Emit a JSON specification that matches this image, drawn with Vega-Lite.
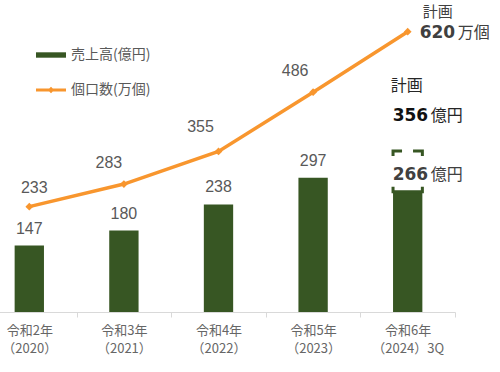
{
  "$schema": "https://vega.github.io/schema/vega-lite/v6.json",
  "width": 473,
  "height": 312,
  "autosize": {"type": "none"},
  "padding": {"left": -18, "top": 0, "right": 45, "bottom": 60},
  "background": "white",
  "config": {
    "view": {"stroke": null},
    "text": {"font": "Liberation Sans"}
  },
  "data": {
    "values": [
      {"year": "令和2年|（2020）", "sales": 147, "parcels": 233, "plan_sales": null},
      {"year": "令和3年|（2021）", "sales": 180, "parcels": 283, "plan_sales": null},
      {"year": "令和4年|（2022）", "sales": 238, "parcels": 355, "plan_sales": null},
      {"year": "令和5年|（2023）", "sales": 297, "parcels": 486, "plan_sales": null},
      {"year": "令和6年|（2024）3Q", "sales": 266, "parcels": 620, "plan_sales": 356}
    ]
  },
  "encoding": {
    "x": {
      "field": "year",
      "type": "nominal",
      "sort": null,
      "scale": {"paddingInner": 0, "paddingOuter": 0},
      "axis": {
        "title": null,
        "labelExpr": "split(datum.label, '|')",
        "labelAngle": 0,
        "labelFont": "Noto Sans CJK JP",
        "labelFontSize": 13,
        "labelColor": "#666666",
        "labelLineHeight": 18,
        "labelPadding": 7,
        "labelBaseline": "top",
        "labelOverlap": false,
        "labelBound": false,
        "domainColor": "#d9d9d9",
        "tickColor": "#d9d9d9",
        "tickSize": 5,
        "tickBand": "extent",
        "grid": false
      }
    }
  },
  "layer": [
    {
      "mark": {"type": "bar", "width": {"band": 0.31}},
      "encoding": {
        "y": {"field": "sales", "type": "quantitative", "scale": {"domain": [0, 690], "nice": false}, "axis": null},
        "color": {
          "datum": "売上高(億円)",
          "scale": {"domain": ["売上高(億円)", "個口数(万個)"], "range": ["#375623", "#f8962e"]},
          "legend": {
            "title": null,
            "orient": "none",
            "legendX": 54,
            "legendY": 40,
            "labelFont": "Noto Sans CJK JP",
            "labelFontSize": 14,
            "labelColor": "#595959",
            "labelOffset": 5,
            "rowPadding": 13,
            "symbolSize": 900,
            "encode": {
              "symbols": {
                "update": {
                  "shape": {"signal": "datum.value === '売上高(億円)' ? 'M-1,-0.18H1V0.18H-1Z' : 'M-1,-0.1H1V0.1H-1Z M-0.22,0L0,-0.22L0.22,0L0,0.22Z'"},
                  "fill": {"scale": "color", "field": "value"},
                  "strokeWidth": {"value": 0},
                  "opacity": {"value": 1},
                  "fillOpacity": {"value": 1}
                }
              }
            }
          }
        }
      }
    },
    {
      "transform": [{"filter": "datum.plan_sales != null"}],
      "mark": {"type": "bar", "width": {"band": 0.31}, "fillOpacity": 0, "stroke": "#375623", "strokeWidth": 3, "strokeDash": [9, 11, 14.3, 30.7, 39.3, 30.7, 5, 0]},
      "encoding": {
        "y": {"field": "plan_sales", "type": "quantitative", "scale": {"domain": [0, 690], "nice": false}, "axis": null},
        "y2": {"field": "sales"}
      }
    },
    {
      "mark": {"type": "line", "strokeWidth": 3.5, "point": {"shape": "diamond", "size": 60, "filled": true}},
      "encoding": {
        "y": {"field": "parcels", "type": "quantitative", "scale": {"domain": [0, 690], "nice": false}, "axis": null},
        "color": {"datum": "個口数(万個)"}
      }
    },
    {
      "transform": [{"filter": "datum.plan_sales == null"}],
      "mark": {"type": "text", "fontSize": 16, "color": "#595959", "baseline": "alphabetic", "dy": -12},
      "encoding": {
        "y": {"field": "sales", "type": "quantitative", "scale": {"domain": [0, 690], "nice": false}, "axis": null},
        "text": {"field": "sales"}
      }
    },
    {
      "transform": [{"filter": "datum.parcels == 233"}],
      "mark": {"type": "text", "fontSize": 16, "color": "#595959", "baseline": "alphabetic", "dx": 5, "dy": -14},
      "encoding": {
        "y": {"field": "parcels", "type": "quantitative", "scale": {"domain": [0, 690], "nice": false}, "axis": null},
        "text": {"field": "parcels"}
      }
    },
    {
      "transform": [{"filter": "datum.parcels == 283"}],
      "mark": {"type": "text", "fontSize": 16, "color": "#595959", "baseline": "alphabetic", "dx": -15, "dy": -16},
      "encoding": {
        "y": {"field": "parcels", "type": "quantitative", "scale": {"domain": [0, 690], "nice": false}, "axis": null},
        "text": {"field": "parcels"}
      }
    },
    {
      "transform": [{"filter": "datum.parcels == 355"}],
      "mark": {"type": "text", "fontSize": 16, "color": "#595959", "baseline": "alphabetic", "dx": -18, "dy": -19},
      "encoding": {
        "y": {"field": "parcels", "type": "quantitative", "scale": {"domain": [0, 690], "nice": false}, "axis": null},
        "text": {"field": "parcels"}
      }
    },
    {
      "transform": [{"filter": "datum.parcels == 486"}],
      "mark": {"type": "text", "fontSize": 16, "color": "#595959", "baseline": "alphabetic", "dx": -18, "dy": -16},
      "encoding": {
        "y": {"field": "parcels", "type": "quantitative", "scale": {"domain": [0, 690], "nice": false}, "axis": null},
        "text": {"field": "parcels"}
      }
    },
    {
      "transform": [{"filter": "datum.plan_sales != null"}],
      "layer": [
        {
          "mark": {"type": "text", "text": "計画", "font": "Noto Sans CJK JP", "fontSize": 15, "color": "#404040", "baseline": "top", "align": "center", "dx": 30, "dy": -27},
          "encoding": {"y": {"field": "parcels", "type": "quantitative", "scale": {"domain": [0, 690], "nice": false}, "axis": null}}
        },
        {
          "mark": {"type": "text", "font": "DejaVu Sans", "fontWeight": "bold", "fontSize": 17, "color": "#404040", "baseline": "alphabetic", "align": "left", "dx": 12, "dy": 6},
          "encoding": {
            "y": {"field": "parcels", "type": "quantitative", "scale": {"domain": [0, 690], "nice": false}, "axis": null},
            "text": {"field": "parcels"}
          }
        },
        {
          "mark": {"type": "text", "text": "万個", "font": "Noto Sans CJK JP", "fontSize": 16, "color": "#404040", "baseline": "alphabetic", "align": "left", "dx": 50, "dy": 6},
          "encoding": {"y": {"field": "parcels", "type": "quantitative", "scale": {"domain": [0, 690], "nice": false}, "axis": null}}
        },
        {
          "mark": {"type": "text", "text": "計画", "font": "Noto Sans CJK JP", "fontSize": 16, "color": "#262626", "baseline": "middle", "align": "left", "dx": -17, "dy": -65},
          "encoding": {"y": {"field": "plan_sales", "type": "quantitative", "scale": {"domain": [0, 690], "nice": false}, "axis": null}}
        },
        {
          "mark": {"type": "text", "font": "DejaVu Sans", "fontWeight": "bold", "fontSize": 17, "color": "#111111", "baseline": "alphabetic", "align": "left", "dx": -15, "dy": -30},
          "encoding": {
            "y": {"field": "plan_sales", "type": "quantitative", "scale": {"domain": [0, 690], "nice": false}, "axis": null},
            "text": {"field": "plan_sales"}
          }
        },
        {
          "mark": {"type": "text", "text": "億円", "font": "Noto Sans CJK JP", "fontSize": 16, "color": "#262626", "baseline": "alphabetic", "align": "left", "dx": 23, "dy": -30},
          "encoding": {"y": {"field": "plan_sales", "type": "quantitative", "scale": {"domain": [0, 690], "nice": false}, "axis": null}}
        },
        {
          "mark": {"type": "text", "font": "DejaVu Sans", "fontWeight": "bold", "fontSize": 17, "color": "#404040", "baseline": "alphabetic", "align": "left", "dx": -15, "dy": -12},
          "encoding": {
            "y": {"field": "sales", "type": "quantitative", "scale": {"domain": [0, 690], "nice": false}, "axis": null},
            "text": {"field": "sales"}
          }
        },
        {
          "mark": {"type": "text", "text": "億円", "font": "Noto Sans CJK JP", "fontSize": 16, "color": "#404040", "baseline": "alphabetic", "align": "left", "dx": 23, "dy": -12},
          "encoding": {"y": {"field": "sales", "type": "quantitative", "scale": {"domain": [0, 690], "nice": false}, "axis": null}}
        }
      ]
    }
  ]
}
